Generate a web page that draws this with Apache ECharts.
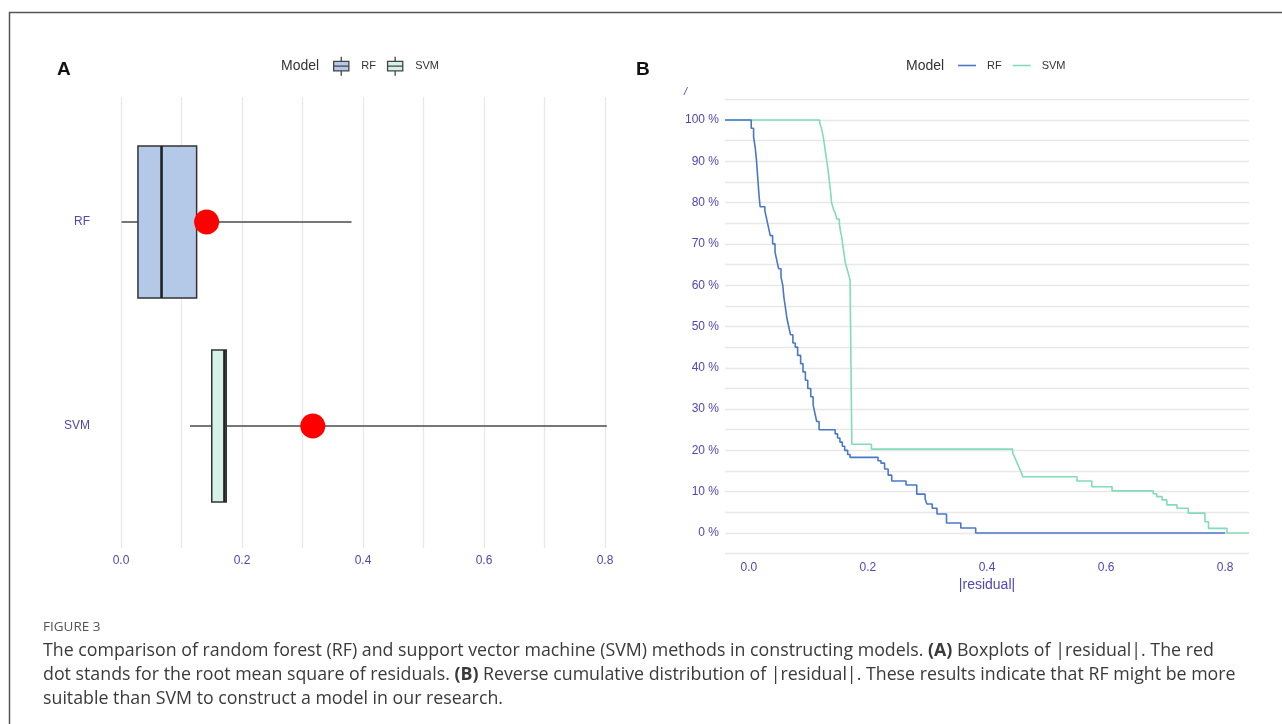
<!DOCTYPE html>
<html>
<head>
<meta charset="utf-8">
<script src="https://cdn.jsdelivr.net/npm/echarts@6/dist/echarts.min.js"></script>
<style>
html,body{margin:0;padding:0;background:#fff;}
#chart{width:1282px;height:724px;}
</style>
</head>
<body>
<div id="chart"></div>
<script>
// ---------- data ----------
const models = ['RF', 'SVM'];
// boxplot stats: [min, Q1, median, Q3, max] of |residual|
const rfBox = [0.001, 0.028, 0.067, 0.125, 0.381];
const svmBox = [0.114, 0.150, 0.171, 0.174, 0.803];
// root mean square of residuals (red dots)
const rmsValues = [0.1415, 0.317];
// x tick labels
const xTickLabels = ['0.0', '0.2', '0.4', '0.6', '0.8'];
// reverse cumulative distribution (|residual|, % of residuals above)
const rfCurve = [[-0.04,100],[0.000,100],[0.004,98],[0.008,96],[0.011,93],[0.013,90],[0.015,86],[0.017,82],[0.019,79],[0.027,78],[0.030,76],[0.033,74],[0.036,72],[0.040,70],[0.044,68],[0.047,66],[0.050,64],[0.054,62],[0.057,60],[0.059,57],[0.062,54],[0.064,52],[0.067,50],[0.070,48],[0.074,46],[0.078,45],[0.082,43],[0.087,41],[0.091,39],[0.095,37],[0.099,35],[0.104,33],[0.108,31],[0.111,29],[0.114,27],[0.118,25],[0.145,24],[0.149,23],[0.153,22],[0.157,21],[0.161,20],[0.166,19],[0.170,18.3],[0.217,17.5],[0.222,16.9],[0.228,15.5],[0.234,14],[0.240,12.6],[0.264,11.6],[0.282,9.4],[0.296,8.3],[0.299,7],[0.308,6],[0.316,4.6],[0.332,2.4],[0.356,1.2],[0.381,0],[0.800,0]];
const svmCurve = [[-0.04,100],[0.114,100],[0.119,99.3],[0.122,98],[0.125,96],[0.127,94],[0.129,92],[0.131,90],[0.133,88],[0.135,85.5],[0.137,83],[0.139,80],[0.142,78.5],[0.145,77.5],[0.148,76],[0.152,75],[0.154,73],[0.156,71.7],[0.158,69.5],[0.160,67.5],[0.162,65.4],[0.165,64],[0.167,62.9],[0.170,61.3],[0.173,21.5],[0.206,20.3],[0.443,19.5],[0.446,18.5],[0.449,17.5],[0.452,16.5],[0.455,15.5],[0.458,14.5],[0.460,13.6],[0.551,12.6],[0.576,11.2],[0.610,10.2],[0.679,9.5],[0.685,8.8],[0.694,8.0],[0.702,6.8],[0.719,6.0],[0.738,4.8],[0.766,2.7],[0.772,1.1],[0.803,0],[0.840,0]];

// ---------- styles ----------
const axisTextColor = '#5046b6';
const gridColor = '#e8e8e8';
const rfFill = '#b4c8e7', svmFill = '#d4f2e7';
const rfLine = '#4a78c8', svmLine = '#82dcb8';
const boxBorder = '#333333';
const capFont = 'Open Sans';
const capSize = 17.8;

function boxRender(fill) {
  return function (params, api) {
    const cat = api.value(0);
    const vmin = api.coord([api.value(1), cat]);
    const q1 = api.coord([api.value(2), cat]);
    const med = api.coord([api.value(3), cat]);
    const q3 = api.coord([api.value(4), cat]);
    const vmax = api.coord([api.value(5), cat]);
    const band = api.size([0, 1])[1];
    const h = band * 0.745;
    const cy = q1[1];
    return {
      type: 'group',
      children: [
        {type: 'line', shape: {x1: vmin[0], y1: cy, x2: q1[0], y2: cy}, style: {stroke: '#4a4a4a', lineWidth: 1.5}},
        {type: 'line', shape: {x1: q3[0], y1: cy, x2: vmax[0], y2: cy}, style: {stroke: '#4a4a4a', lineWidth: 1.5}},
        {type: 'rect', shape: {x: q1[0], y: cy - h / 2, width: q3[0] - q1[0], height: h}, style: {fill: fill, stroke: boxBorder, lineWidth: 1.5}},
        {type: 'line', shape: {x1: med[0], y1: cy - h / 2, x2: med[0], y2: cy + h / 2}, style: {stroke: '#222', lineWidth: 2.6}}
      ]
    };
  };
}

const boxIcon = 'path://M1,5 L17,5 L17,15 L1,15 Z M1,10 L17,10 M9,0 L9,5 M9,15 L9,20';

const chart = echarts.init(document.getElementById('chart'), null, {renderer: 'canvas'});
const option = {
  backgroundColor: '#ffffff',
  animation: false,
  textStyle: {fontFamily: 'Liberation Sans, Arial, sans-serif'},
  title: [
    {text: 'A', left: 57, top: 60, padding: 0, textStyle: {fontSize: 19, fontWeight: 'bold', color: '#111'}},
    {text: 'B', left: 636, top: 60, padding: 0, textStyle: {fontSize: 19, fontWeight: 'bold', color: '#111'}},
    {text: 'Model', left: 281, top: 59, padding: 0, textStyle: {fontSize: 14, fontWeight: 'normal', color: '#333'}},
    {text: 'Model', left: 906, top: 59, padding: 0, textStyle: {fontSize: 14, fontWeight: 'normal', color: '#333'}}
  ],
  legend: [
    {
      left: 333, top: 56, padding: 0, itemWidth: 18, itemHeight: 19, itemGap: 11,
      selectedMode: false,
      textStyle: {fontSize: 11, color: '#333', padding: [0, 0, 0, 6]},
      data: [
        {name: 'RF', icon: boxIcon, itemStyle: {color: rfFill, borderColor: '#444', borderWidth: 1.3}},
        {name: 'SVM', icon: boxIcon, itemStyle: {color: svmFill, borderColor: '#444', borderWidth: 1.3}}
      ]
    },
    {
      left: 958, top: 60, padding: 0, itemWidth: 18, itemHeight: 1.6, itemGap: 11,
      selectedMode: false,
      textStyle: {fontSize: 11, color: '#333', padding: [0, 0, 0, 6]},
      data: [
        {name: 'RF ', icon: 'rect', itemStyle: {color: rfLine}},
        {name: 'SVM ', icon: 'rect', itemStyle: {color: svmLine}}
      ],
      formatter: n => n.trim()
    }
  ],
  grid: [
    {left: 121, width: 484, top: 97, height: 451},
    {left: 121, width: 484, top: 120, height: 408},
    {left: 725, width: 524, top: 99.4, height: 454.2}
  ],
  xAxis: [
    {
      gridIndex: 0, type: 'value', min: 0, max: 0.8, interval: 0.1,
      axisLine: {show: false}, axisTick: {show: false},
      splitLine: {show: true, lineStyle: {color: gridColor, width: 1.3}},
      axisLabel: {
        color: axisTextColor, fontSize: 12, margin: 7,
        formatter: v => { const r = Math.round(v * 10); return r % 2 === 0 ? xTickLabels[r / 2] : ''; }
      }
    },
    {
      gridIndex: 1, type: 'value', min: 0, max: 0.8, show: false
    },
    {
      gridIndex: 2, type: 'value', min: -0.04, max: 0.84, interval: 0.04,
      axisLine: {show: false}, axisTick: {show: false}, splitLine: {show: false},
      name: '|residual|', nameLocation: 'middle', nameGap: 23,
      nameTextStyle: {color: axisTextColor, fontSize: 14},
      axisLabel: {
        color: axisTextColor, fontSize: 12, margin: 8,
        formatter: v => { const r = Math.round(v * 100); return (r >= 0 && r <= 80 && r % 20 === 0) ? xTickLabels[r / 20] : ''; }
      }
    }
  ],
  yAxis: [
    {gridIndex: 0, type: 'value', show: false},
    {
      gridIndex: 1, type: 'category', data: models, inverse: true,
      axisLine: {show: false}, axisTick: {show: false}, splitLine: {show: false},
      axisLabel: {color: axisTextColor, fontSize: 12, margin: 31}
    },
    {
      gridIndex: 2, type: 'value', min: -5, max: 105, interval: 5,
      axisLine: {show: false}, axisTick: {show: false},
      splitLine: {show: true, lineStyle: {color: gridColor, width: 1.3}},
      axisLabel: {
        color: axisTextColor, fontSize: 12, margin: 6,
        formatter: v => { const r = Math.round(v); return (r >= 0 && r <= 100 && r % 10 === 0) ? r + ' %' : ''; }
      }
    }
  ],
  series: [
    {
      name: 'RF', type: 'custom', xAxisIndex: 1, yAxisIndex: 1,
      itemStyle: {color: rfFill, borderColor: '#444'},
      renderItem: boxRender(rfFill),
      encode: {x: [1, 2, 3, 4, 5], y: 0},
      data: [[0].concat(rfBox)], z: 2
    },
    {
      name: 'SVM', type: 'custom', xAxisIndex: 1, yAxisIndex: 1,
      itemStyle: {color: svmFill, borderColor: '#444'},
      renderItem: boxRender(svmFill),
      encode: {x: [1, 2, 3, 4, 5], y: 0},
      data: [[1].concat(svmBox)], z: 2
    },
    {
      name: 'RMS', type: 'scatter', xAxisIndex: 1, yAxisIndex: 1,
      symbolSize: 25, itemStyle: {color: '#ff0000', opacity: 1}, z: 5,
      data: models.map((m, i) => [rmsValues[i], m])
    },
    {
      name: 'RF ', type: 'line', xAxisIndex: 2, yAxisIndex: 2, step: 'end',
      symbol: 'none', lineStyle: {color: rfLine, width: 1.6}, itemStyle: {color: rfLine},
      data: rfCurve, z: 3
    },
    {
      name: 'SVM ', type: 'line', xAxisIndex: 2, yAxisIndex: 2, step: 'end',
      symbol: 'none', lineStyle: {color: svmLine, width: 1.6}, itemStyle: {color: svmLine},
      data: svmCurve, z: 2
    }
  ],
  graphic: [
    {type: 'rect', shape: {x: 9.5, y: 12.5, width: 1300, height: 800}, style: {fill: 'none', stroke: '#555', lineWidth: 1.5}, silent: true},
    {type: 'text', left: 684, top: 86, style: {text: '/', fontSize: 11, fill: '#3b4fa0', fontStyle: 'italic'}},
    {type: 'text', left: 43, top: 620, style: {text: 'FIGURE 3', fontSize: 13.5, fill: '#555', fontFamily: capFont}},
    {type: 'text', left: 43, top: 642, style: {
      text: 'The comparison of random forest (RF) and support vector machine (SVM) methods in constructing models. {b|(A)} Boxplots of |residual|. The red',
      fontSize: capSize, fill: '#3a3a3a', fontFamily: capFont, rich: {b: {fontWeight: 'bold', fontSize: capSize, fontFamily: capFont, fill: '#3a3a3a'}}}},
    {type: 'text', left: 43, top: 666, style: {
      text: 'dot stands for the root mean square of residuals. {b|(B)} Reverse cumulative distribution of |residual|. These results indicate that RF might be more',
      fontSize: capSize, fill: '#3a3a3a', fontFamily: capFont, rich: {b: {fontWeight: 'bold', fontSize: capSize, fontFamily: capFont, fill: '#3a3a3a'}}}},
    {type: 'text', left: 43, top: 690, style: {
      text: 'suitable than SVM to construct a model in our research.',
      fontSize: capSize, fill: '#3a3a3a', fontFamily: capFont}}
  ]
};
chart.setOption(option);
</script>
</body>
</html>
